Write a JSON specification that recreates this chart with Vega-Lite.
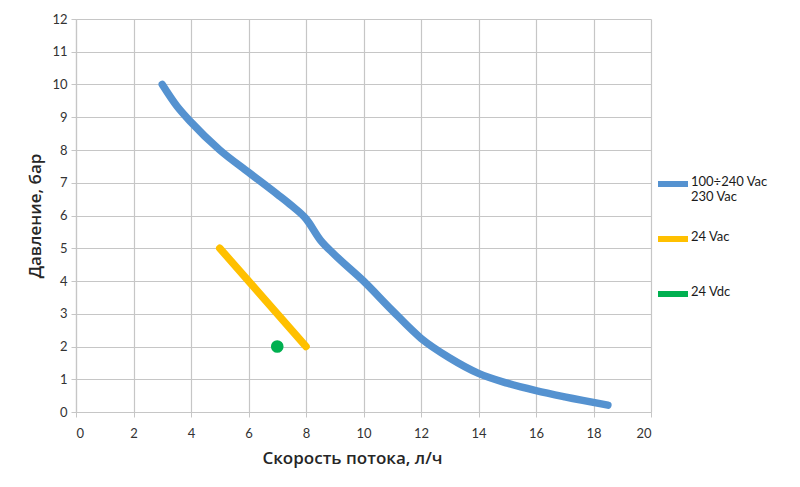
{
  "$schema": "https://vega.github.io/schema/vega-lite/v6.json",
  "width": 575,
  "height": 393,
  "autosize": {"type": "none"},
  "padding": {"left": 76, "top": 19, "right": 149, "bottom": 75},
  "background": "#ffffff",
  "config": {
    "view": {"stroke": null},
    "axis": {
      "labelFont": "Lato", "labelFontSize": 13, "labelColor": "#333333",
      "titleFont": "Open Sans", "titleFontWeight": 600, "titleFontSize": 17, "titleColor": "#262626",
      "gridColor": "#c6c6c6", "domainColor": "#c6c6c6", "tickColor": "#c6c6c6",
      "tickSize": 5, "gridWidth": 1.2, "domainWidth": 1.2
    },
    "legend": {"labelFont": "Lato", "labelFontSize": 13, "labelColor": "#1a1a1a"}
  },
  "data": {
    "values": [
      {"q": 3.0, "p": 10.0, "s": "100÷240 Vac"},
      {"q": 3.5, "p": 9.35, "s": "100÷240 Vac"},
      {"q": 4.0, "p": 8.85, "s": "100÷240 Vac"},
      {"q": 5.0, "p": 8.0, "s": "100÷240 Vac"},
      {"q": 6.0, "p": 7.32, "s": "100÷240 Vac"},
      {"q": 7.0, "p": 6.65, "s": "100÷240 Vac"},
      {"q": 7.5, "p": 6.3, "s": "100÷240 Vac"},
      {"q": 8.0, "p": 5.9, "s": "100÷240 Vac"},
      {"q": 8.5, "p": 5.25, "s": "100÷240 Vac"},
      {"q": 9.0, "p": 4.8, "s": "100÷240 Vac"},
      {"q": 10.0, "p": 4.0, "s": "100÷240 Vac"},
      {"q": 11.0, "p": 3.1, "s": "100÷240 Vac"},
      {"q": 12.0, "p": 2.25, "s": "100÷240 Vac"},
      {"q": 13.0, "p": 1.65, "s": "100÷240 Vac"},
      {"q": 14.0, "p": 1.18, "s": "100÷240 Vac"},
      {"q": 15.0, "p": 0.88, "s": "100÷240 Vac"},
      {"q": 16.0, "p": 0.65, "s": "100÷240 Vac"},
      {"q": 17.0, "p": 0.46, "s": "100÷240 Vac"},
      {"q": 18.5, "p": 0.21, "s": "100÷240 Vac"},
      {"q": 5.0, "p": 5.0, "s": "24 Vac"},
      {"q": 8.0, "p": 2.0, "s": "24 Vac"},
      {"q": 7.0, "p": 2.0, "s": "24 Vdc"}
    ]
  },
  "encoding": {
    "x": {
      "field": "q", "type": "quantitative",
      "scale": {"domain": [0, 20], "nice": false},
      "axis": {"values": [0, 2, 4, 6, 8, 10, 12, 14, 16, 18, 20], "labelPadding": 10, "titlePadding": 10, "titleX": 276},
      "title": "Скорость потока, л/ч"
    },
    "y": {
      "field": "p", "type": "quantitative",
      "scale": {"domain": [0, 12], "nice": false},
      "axis": {"values": [0, 1, 2, 3, 4, 5, 6, 7, 8, 9, 10, 11, 12], "labelPadding": 4, "titlePadding": 7},
      "title": "Давление, бар"
    },
    "color": {
      "field": "s", "type": "nominal",
      "scale": {"domain": ["100÷240 Vac", "24 Vac", "24 Vdc"], "range": ["#5592d0", "#ffc000", "#00b050"]},
      "legend": {
        "title": null,
        "orient": "none",
        "legendX": 579,
        "legendY": 147,
        "symbolType": "stroke",
        "symbolSize": 900,
        "symbolStrokeWidth": 6,
        "labelOffset": 0,
        "gridAlign": "all",
        "rowPadding": 17,
        "labelLimit": 200,
        "labelBaseline": "top",
        "labelExpr": "datum.label == '100÷240 Vac' ? ['100÷240 Vac', '230 Vac'] : datum.label",
        "encode": {"labels": {"update": {"dy": {"value": -8}}}}
      }
    }
  },
  "layer": [
    {
      "transform": [{"filter": "datum.s != '24 Vdc'"}],
      "mark": {"type": "line", "strokeWidth": 7.5, "strokeCap": "round", "strokeJoin": "round", "interpolate": "monotone"},
      "encoding": {"detail": {"field": "s"}}
    },
    {
      "transform": [{"filter": "datum.s == '24 Vdc'"}],
      "mark": {"type": "circle", "size": 160, "opacity": 1}
    }
  ]
}
